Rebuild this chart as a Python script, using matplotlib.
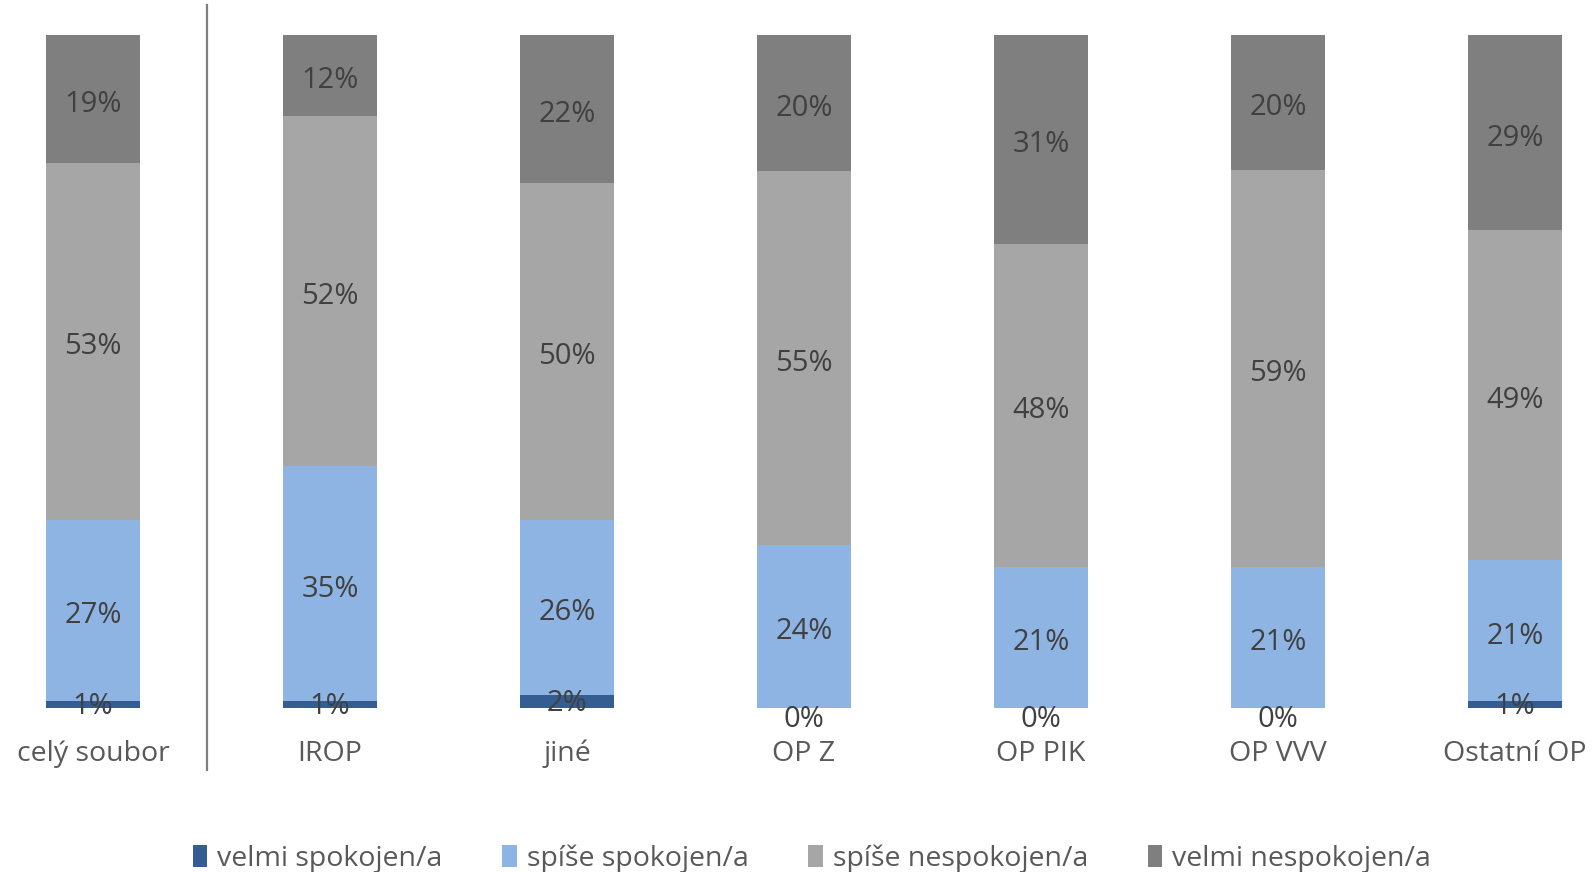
import matplotlib
matplotlib.use('Agg')
import matplotlib.pyplot as plt
import matplotlib.lines as mlines
import matplotlib.transforms as mtransforms
import numpy as np

plt.rcParams['font.family'] = ['Open Sans', 'DejaVu Sans']

categories = ['celý soubor', 'IROP', 'jiné', 'OP Z', 'OP PIK', 'OP VVV', 'Ostatní OP']
series_names = ['velmi spokojen/a', 'spíše spokojen/a', 'spíše nespokojen/a', 'velmi nespokojen/a']
velmi_spokojen = [1, 1, 2, 0, 0, 0, 1]
spise_spokojen = [27, 35, 26, 24, 21, 21, 21]
spise_nespokojen = [53, 52, 50, 55, 48, 59, 49]
velmi_nespokojen = [19, 12, 22, 20, 31, 20, 29]

colors = ['#335d93', '#8eb4e3', '#a6a6a6', '#7f7f7f']
text_color = '#595959'
label_color = '#404040'

values = np.array([velmi_spokojen, spise_spokojen, spise_nespokojen, velmi_nespokojen], dtype=float)
# 100 % stacked: each column is scaled to its own total
shares = values / values.sum(axis=0) * 100

fig = plt.figure(figsize=(15.92, 8.72), dpi=100)
ax = fig.add_axes([0, 0.1881, 1, 0.7718])
x = np.arange(len(categories))

bottom = np.zeros(len(categories))
for k, name in enumerate(series_names):
    ax.bar(x, shares[k], bottom=bottom, width=0.40, color=colors[k],
           edgecolor='none', label=name, zorder=2)
    for i in range(len(categories)):
        mid = bottom[i] + shares[k][i] / 2
        txt = f'{values[k][i]:.0f}%'
        if values[k][i] == 0:
            dy = -8
        elif values[k][i] <= 2:
            dy = -1.5
        else:
            dy = -4
        ax.annotate(txt, (x[i], mid), xytext=(0, dy), textcoords='offset points',
                    ha='center', va='center', fontsize=21, color=label_color)
    bottom += shares[k]

ax.set_xlim(-0.3924, 6.3249)
ax.set_ylim(0, 100)
ax.axis('off')

# category names under the bars
trans = mtransforms.blended_transform_factory(ax.transData, fig.transFigure)
for i, cat in enumerate(categories):
    ax.text(x[i], 1 - 754 / 872, cat, transform=trans, ha='center', va='center',
            fontsize=20.5, color=text_color)

# divider between the whole sample and the individual programmes
fig.add_artist(mlines.Line2D([206.5 / 1592, 206.5 / 1592], [1 - 770 / 872, 1 - 5 / 872],
                             color='#7f7f7f', linewidth=1.6))

fig.legend(loc='center', bbox_to_anchor=(0.51, 1 - 859 / 872), ncol=4, frameon=False,
           fontsize=20.5, handlelength=0.5, handleheight=0.8, handletextpad=0.35,
           columnspacing=2.1, labelcolor=text_color)

fig.savefig('out.png', dpi=100, facecolor='white')
